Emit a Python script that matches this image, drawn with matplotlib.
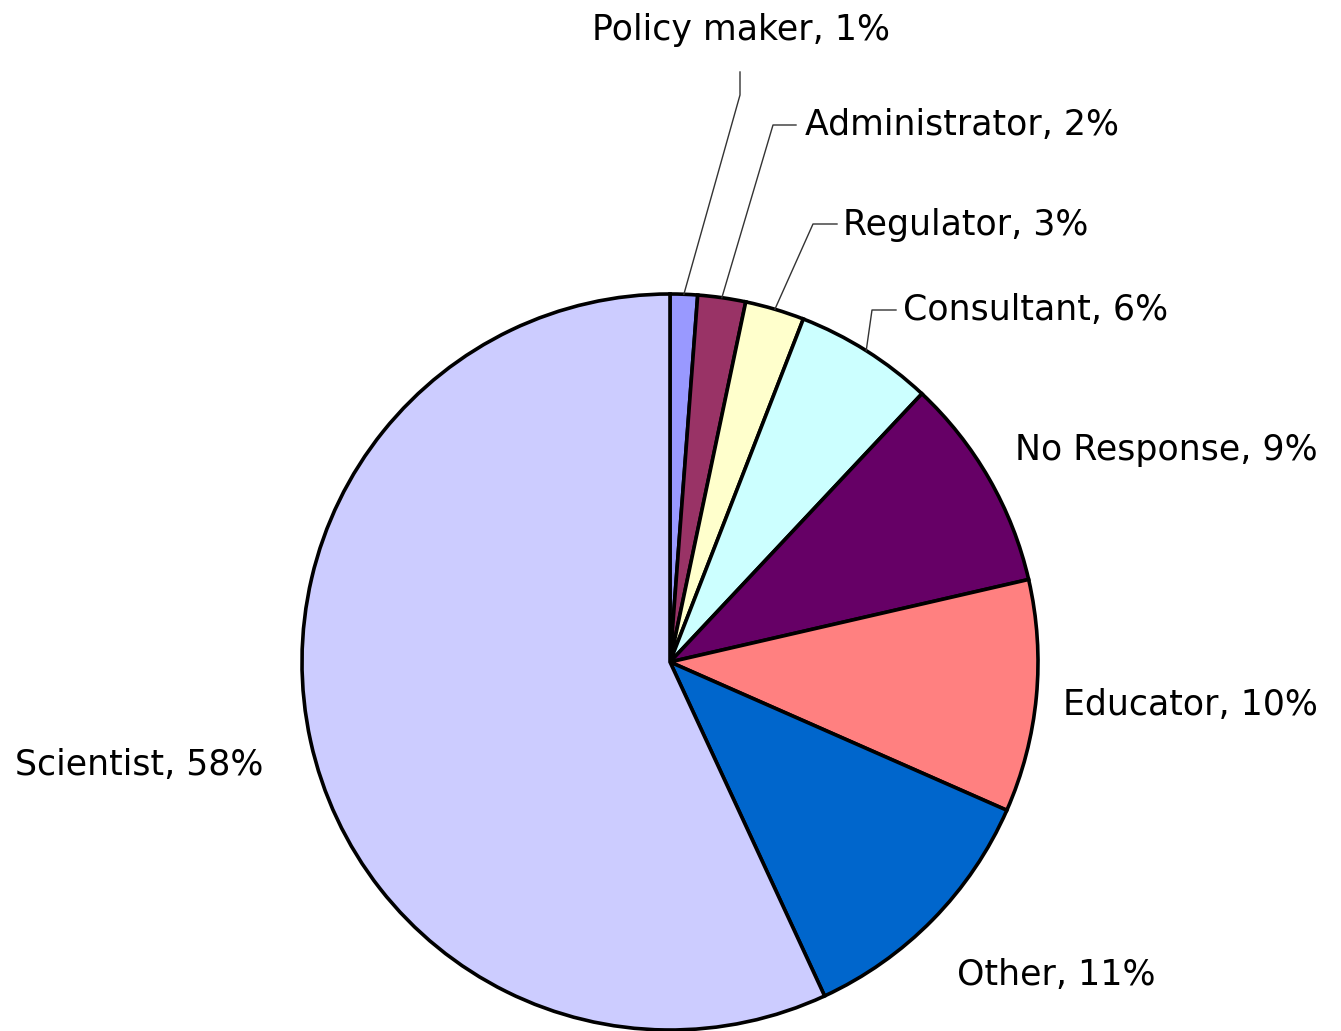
import numpy as np
import matplotlib
matplotlib.use('Agg')
import matplotlib.pyplot as plt

# slices clockwise from 12 o'clock
categories = ['Policy maker', 'Administrator', 'Regulator', 'Consultant',
              'No Response', 'Educator', 'Other', 'Scientist']
shares = [1.2, 2.1, 2.6, 6.1, 9.4, 10.2, 11.5, 56.9]   # measured off the arcs
pct_labels = [1, 2, 3, 6, 9, 10, 11, 58]                # as printed
colors = ['#9999FF', '#993366', '#FFFFCC', '#CCFFFF',
          '#660066', '#FF8080', '#0066CC', '#CCCCFF']

W, H = 1341, 1031
fig = plt.figure(figsize=(W / 100, H / 100), dpi=100)
ax = fig.add_axes([0, 0, 1, 1])

cx, cy, r = 670, H - 662, 368
wedges, _ = ax.pie(shares, colors=colors, startangle=90, counterclock=False,
                   center=(cx, cy), radius=r,
                   wedgeprops=dict(edgecolor='black', linewidth=2.6))
ax.set_xlim(0, W)
ax.set_ylim(0, H)
ax.set_aspect('equal')
ax.axis('off')

# label placement: (x, y in px from top, ha), plus leader elbow/end for the small slices
text_pos = [(741, 30, 'center'), (805, 125, 'left'), (843, 225, 'left'),
            (903, 310, 'left'), (1015, 450, 'left'), (1063, 705, 'left'),
            (957, 975, 'left'), (15, 765, 'left')]
leaders = {0: [(740, 95), (740, 72)],
           1: [(773, 125), (796, 125)],
           2: [(813, 224), (837, 224)],
           3: [(872, 310), (896, 310)]}

for i, (w, name, pct) in enumerate(zip(wedges, categories, pct_labels)):
    tx, ty, ha = text_pos[i]
    ax.text(tx, H - ty, f'{name}, {pct}%', fontsize=25, ha=ha, va='center',
            color='black')
    if i in leaders:
        mid = np.deg2rad((w.theta1 + w.theta2) / 2)
        pts = [(cx + r * np.cos(mid), cy + r * np.sin(mid))]
        pts += [(px, H - py) for px, py in leaders[i]]
        xs, ys = zip(*pts)
        ax.plot(xs, ys, color='#333333', lw=1)

fig.savefig('out.png', dpi=100)
